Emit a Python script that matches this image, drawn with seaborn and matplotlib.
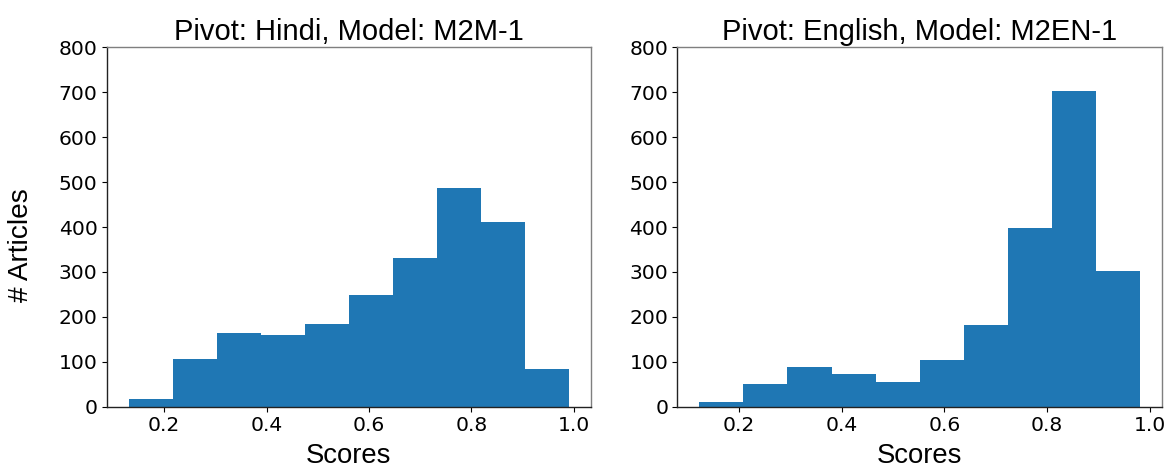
import numpy as np
import pandas as pd
import seaborn as sns
import matplotlib
matplotlib.use('Agg')
import matplotlib.pyplot as plt

# bin counts, 10 equal bins per panel
hindi_counts = [18, 107, 165, 159, 184, 248, 330, 486, 412, 83]
hindi_range = (0.131, 0.990)
english_counts = [10, 51, 88, 73, 55, 103, 183, 397, 702, 302]
english_range = (0.123, 0.981)
titles = ['Pivot: Hindi, Model: M2M-1', 'Pivot: English, Model: M2EN-1']
y_ticks = [0, 100, 200, 300, 400, 500, 600, 700, 800]
x_ticks = [0.2, 0.4, 0.6, 0.8, 1.0]

sns.set_style('ticks')
plt.rcParams['font.family'] = ['Liberation Sans', 'DejaVu Sans']
plt.rcParams['text.color'] = 'black'
plt.rcParams['axes.labelcolor'] = 'black'


def to_frame(counts, rng):
    edges = np.linspace(rng[0], rng[1], len(counts) + 1)
    mids = (edges[:-1] + edges[1:]) / 2
    return pd.DataFrame({'Scores': mids, 'n': counts}), edges.tolist()


fig = plt.figure(figsize=(11.73, 4.71), dpi=100)
ax1 = fig.add_axes([0.0910, 0.1365, 0.4126, 0.763])
ax2 = fig.add_axes([0.5774, 0.1365, 0.4132, 0.763])

for ax, counts, rng, title in zip([ax1, ax2], [hindi_counts, english_counts],
                                  [hindi_range, english_range], titles):
    df, edges = to_frame(counts, rng)
    sns.histplot(data=df, x='Scores', weights='n', bins=edges, ax=ax,
                 color='#1f77b4', alpha=1, linewidth=0, element='bars')
    ax.set_ylim(0, 800)
    ax.set_yticks(y_ticks)
    ax.set_xticks(x_ticks)
    ax.set_xticklabels([f'{t:.1f}' for t in x_ticks], family='DejaVu Sans')
    ax.set_yticklabels([str(t) for t in y_ticks], family='DejaVu Sans')
    ax.tick_params(labelsize=14.6, length=3.5, width=0.8, color='black',
                   labelcolor='black', pad=3)
    ax.set_ylabel('')
    ax.set_xlabel('Scores', fontsize=19.8, labelpad=6)
    ax.set_title(title, fontsize=21, pad=5)
    for s in ['left', 'bottom']:
        ax.spines[s].set_color('#222222')
        ax.spines[s].set_linewidth(1.0)
    for s in ['top', 'right']:
        ax.spines[s].set_color('#7f7f7f')
        ax.spines[s].set_linewidth(1.0)

fig.text(0.018, 0.48, '# Articles', rotation=90, fontsize=20.2,
         ha='center', va='center')

fig.savefig('out.png', dpi=100)
